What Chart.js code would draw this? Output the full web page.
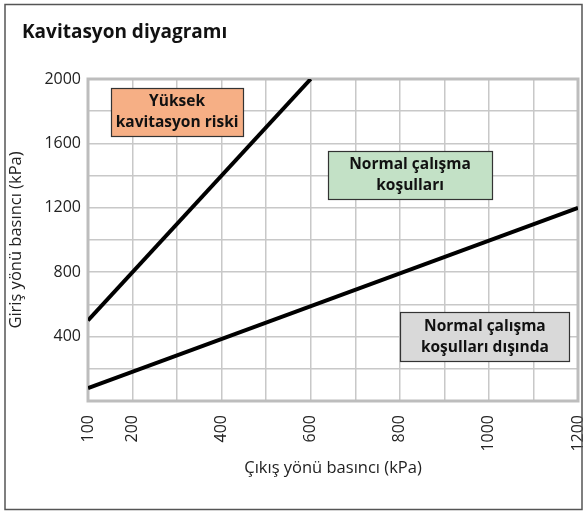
<!DOCTYPE html>
<html lang="tr">
<head>
    <meta charset="UTF-8">
    <title>Kavitasyon diyagramı</title>
    <script src="https://cdn.jsdelivr.net/npm/chart.js"></script>
    <style>
        html, body { margin: 0; padding: 0; background: #fff; }
        #wrap { position: relative; width: 584px; height: 511px; }
    </style>
</head>
<body>
    <div id="wrap">
        <canvas id="cavChart" width="584" height="511"></canvas>
    </div>

    <script>
        // Verileri
        const highLineX = [100, 600];
        const highLineY = [500, 2000];
        const lowLineX = [100, 1200];
        const lowLineY = [80, 1200];
        const xTickLabels = [100, 200, 400, 600, 800, 1000, 1200];
        const yTickLabels = [400, 800, 1200, 1600, 2000];
        const regionTexts = [
            ['Yüksek', 'kavitasyon riski'],
            ['Normal çalışma', 'koşulları'],
            ['Normal çalışma', 'koşulları dışında']
        ];

        const toPoints = (xs, ys) => xs.map((x, i) => ({ x: x, y: ys[i] }));

        // Bölge kutuları (veri koordinatlarında merkez)
        const boxes = [
            { cx: 300, cy: 1795, w: 132, h: 48, fill: '#F6AF85' },
            { cx: 823, cy: 1404, w: 164, h: 48, fill: '#C3E1C6' },
            { cx: 991, cy: 400, w: 169, h: 49, fill: '#D9D9D9' }
        ];

        const decorPlugin = {
            id: 'decor',
            beforeDatasetsDraw(chart) {
                const { ctx, chartArea: a } = chart;
                ctx.save();
                ctx.strokeStyle = '#BDBDBD';
                ctx.lineWidth = 3;
                ctx.strokeRect(a.left, a.top, a.right - a.left, a.bottom - a.top);
                ctx.restore();
            },
            afterDraw(chart) {
                const { ctx, scales } = chart;
                ctx.save();
                // dış çerçeve
                ctx.strokeStyle = '#555';
                ctx.lineWidth = 1.5;
                ctx.strokeRect(5, 4.5, 577, 505);
                // başlık
                ctx.fillStyle = '#111';
                ctx.font = 'bold 19px "Open Sans"';
                ctx.textBaseline = 'alphabetic';
                ctx.textAlign = 'left';
                ctx.fillText('Kavitasyon diyagramı', 22, 38);
                // bölge kutuları
                boxes.forEach((b, i) => {
                    const px = scales.x.getPixelForValue(b.cx);
                    const py = scales.y.getPixelForValue(b.cy);
                    const l = Math.round(px - b.w / 2) + 0.5;
                    const t = Math.round(py - b.h / 2) + 0.5;
                    ctx.fillStyle = b.fill;
                    ctx.fillRect(l, t, b.w, b.h);
                    ctx.strokeStyle = '#333';
                    ctx.lineWidth = 1.2;
                    ctx.strokeRect(l, t, b.w, b.h);
                    ctx.fillStyle = '#111';
                    ctx.font = 'bold 15.5px "Open Sans"';
                    ctx.textAlign = 'center';
                    ctx.textBaseline = 'middle';
                    ctx.fillText(regionTexts[i][0], px, py - 10);
                    ctx.fillText(regionTexts[i][1], px, py + 11);
                });
                ctx.restore();
            }
        };

        const ctx = document.getElementById('cavChart').getContext('2d');
        new Chart(ctx, {
            type: 'scatter',
            data: {
                datasets: [
                    {
                        data: toPoints(highLineX, highLineY),
                        showLine: true,
                        borderColor: '#000',
                        borderWidth: 4,
                        pointRadius: 0
                    },
                    {
                        data: toPoints(lowLineX, lowLineY),
                        showLine: true,
                        borderColor: '#000',
                        borderWidth: 4,
                        pointRadius: 0
                    }
                ]
            },
            options: {
                responsive: false,
                animation: false,
                layout: { padding: { left: 0, right: 6, top: 79, bottom: 0 } },
                plugins: {
                    legend: { display: false },
                    tooltip: { enabled: false }
                },
                scales: {
                    x: {
                        type: 'linear',
                        min: 100,
                        max: 1200,
                        afterFit: s => { s.height = 110; s.paddingRight = 0; s.paddingLeft = 0; },
                        border: { display: false },
                        grid: { color: '#C8C8C8', lineWidth: 1.5, drawTicks: false },
                        ticks: {
                            stepSize: 100,
                            autoSkip: false,
                            maxRotation: 90,
                            minRotation: 90,
                            padding: 14,
                            color: '#222',
                            font: { family: '"Open Sans"', size: 16 },
                            callback: v => xTickLabels.includes(v) ? String(v) : ''
                        },
                        title: {
                            display: true,
                            text: 'Çıkış yönü basıncı (kPa)',
                            color: '#222',
                            font: { family: '"Open Sans"', size: 16.5 },
                            padding: { top: 0, bottom: 33 }
                        }
                    },
                    y: {
                        type: 'linear',
                        min: 0,
                        max: 2000,
                        afterFit: s => { s.width = 88; s.paddingTop = 0; s.paddingBottom = 0; },
                        border: { display: false },
                        grid: { color: '#C8C8C8', lineWidth: 1.5, drawTicks: false },
                        ticks: {
                            stepSize: 200,
                            autoSkip: false,
                            padding: 7,
                            color: '#222',
                            font: { family: '"Open Sans"', size: 16 },
                            callback: v => yTickLabels.includes(v) ? String(v) : ''
                        },
                        title: {
                            display: true,
                            text: 'Giriş yönü basıncı (kPa)',
                            color: '#222',
                            font: { family: '"Open Sans"', size: 16.5 },
                            padding: { top: 6, bottom: 0 }
                        }
                    }
                }
            },
            plugins: [decorPlugin]
        });
    </script>
</body>
</html>
